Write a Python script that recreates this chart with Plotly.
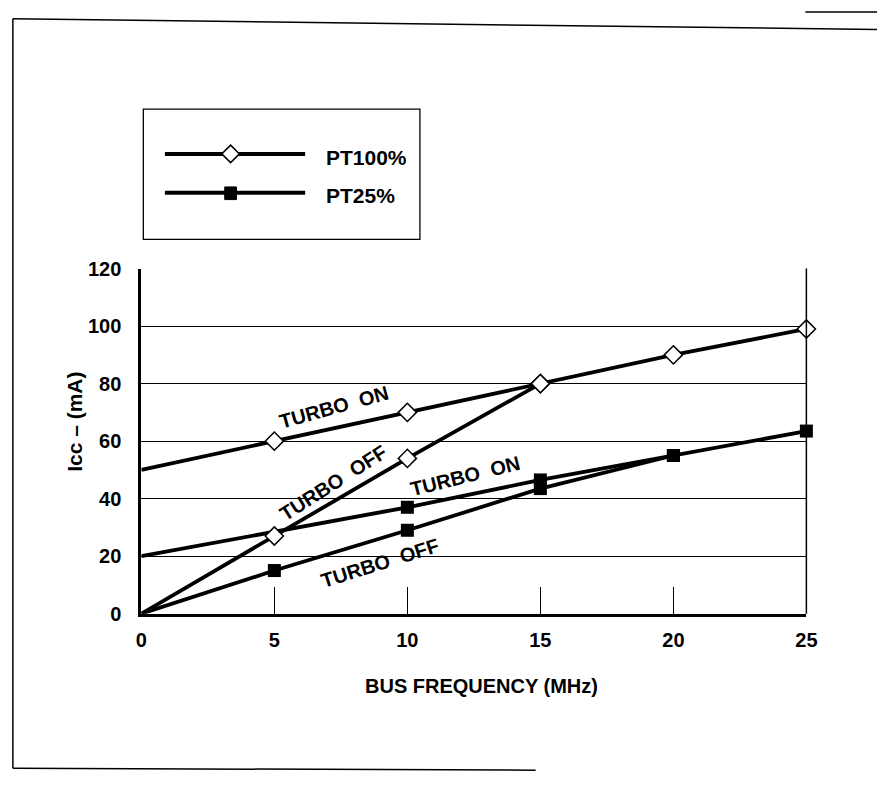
import plotly.graph_objects as go

W, H = 888, 787

# chart values
freq = [0, 5, 10, 15, 20, 25]
pt100_on = [50, 60, 70, 80, 90, 99]
pt100_off_x = [0, 5, 10, 15]
pt100_off = [0, 27, 54, 80]
pt25_on_x = [0, 10, 15, 20, 25]
pt25_on = [20, 37, 46.5, 55, 63.5]
pt25_off_x = [0, 5, 10, 15, 20]
pt25_off = [0, 15, 29, 43.5, 55]

x_ticks = [0, 5, 10, 15, 20, 25]
y_ticks = [0, 20, 40, 60, 80, 100, 120]

FONT = "Liberation Sans, Arial, Helvetica, sans-serif"

# plot area in pixels
PL, PR, PT, PB = 138, 816, 265, 620

fig = go.Figure()

line = dict(color="black", width=3.8)


def sizes(xs, s):
    # no marker at the origin (x = 0), like the original figure
    return [0 if v == 0 else s for v in xs]


def sq(xs):
    return dict(symbol="square", size=sizes(xs, 13), color="black", opacity=1,
                line=dict(width=0))


def dia(xs):
    return dict(symbol="diamond", size=sizes(xs, 14), color="white", opacity=1,
                line=dict(color="black", width=1.5))


fig.add_trace(go.Scatter(x=pt25_off_x, y=pt25_off, mode="lines+markers", line=line,
                         marker=sq(pt25_off_x), cliponaxis=False))
fig.add_trace(go.Scatter(x=pt25_on_x, y=pt25_on, mode="lines+markers", line=line,
                         marker=sq(pt25_on_x), cliponaxis=False))
fig.add_trace(go.Scatter(x=pt100_off_x, y=pt100_off, mode="lines+markers", line=line,
                         marker=dia(pt100_off_x), cliponaxis=False))
fig.add_trace(go.Scatter(x=freq, y=pt100_on, mode="lines+markers", line=line,
                         marker=dia(freq), cliponaxis=False))

# invisible full-canvas axes for frame + legend drawing (pixel units)
fig.add_trace(go.Scatter(x=[None], y=[None], xaxis="x2", yaxis="y2", showlegend=False))

bold = dict(family=FONT, size=20, color="black", weight="bold")

fig.update_layout(
    width=W, height=H, autosize=False,
    margin=dict(l=0, r=0, t=0, b=0),
    paper_bgcolor="white", plot_bgcolor="rgba(0,0,0,0)",
    showlegend=False,
    xaxis=dict(domain=[PL / W, PR / W], range=[0, 25], tickvals=x_ticks,
               showgrid=False, zeroline=False, showline=True, linecolor="black",
               linewidth=3, ticks="inside", ticklen=27, tickwidth=1.3,
               tickcolor="black", tickfont=bold, ticklabelstandoff=6,
               anchor="y"),
    yaxis=dict(domain=[(H - PB) / H, (H - PT) / H], range=[0, 120], tickvals=y_ticks,
               showgrid=True, gridcolor="black", gridwidth=1.3, zeroline=False,
               showline=True, linecolor="black", linewidth=3, ticks="",
               tickfont=bold, ticklabelstandoff=13, anchor="x"),
    xaxis2=dict(domain=[0, 1], range=[0, W], visible=False, anchor="y2"),
    yaxis2=dict(domain=[0, 1], range=[H, 0], visible=False, anchor="x2"),
)

shapes = []
# right frame of the plot
shapes.append(dict(type="line", xref="x domain", yref="y domain", x0=1, x1=1, y0=0, y1=1,
                   line=dict(color="black", width=1.5)))
# outer figure border (scanned page frame)
pix = dict(xref="x2", yref="y2", type="line", line=dict(color="black", width=1.5))
shapes.append(dict(pix, x0=7, y0=8, x1=888, y1=19))
shapes.append(dict(pix, x0=7, y0=8, x1=7, y1=779))
shapes.append(dict(pix, x0=7, y0=779, x1=540, y1=781))
shapes.append(dict(pix, x0=815, y0=1, x1=888, y1=1))
# legend box
shapes.append(dict(xref="x2", yref="y2", type="rect", x0=140, y0=101, x1=422, y1=235,
                   line=dict(color="black", width=1.3), fillcolor="white"))
# legend samples
for yy in (147, 187):
    shapes.append(dict(pix, x0=162, y0=yy, x1=305, y1=yy, line=dict(color="black", width=4)))
cx, cy, r = 229, 147, 9
shapes.append(dict(xref="x2", yref="y2", type="path",
                   path=f"M {cx - r},{cy} L {cx},{cy - r} L {cx + r},{cy} L {cx},{cy + r} Z",
                   fillcolor="white", line=dict(color="black", width=1.5)))
shapes.append(dict(xref="x2", yref="y2", type="rect", x0=223, y0=181, x1=235, y1=194,
                   fillcolor="black", line=dict(color="black", width=1)))
fig.update_layout(shapes=shapes)

ann = []
leg_font = dict(bold, size=21)
ann.append(dict(xref="x2", yref="y2", x=324, y=151, text="PT100%", showarrow=False,
                xanchor="left", font=leg_font))
ann.append(dict(xref="x2", yref="y2", x=324, y=190, text="PT25%", showarrow=False,
                xanchor="left", font=leg_font))
ann.append(dict(xref="x2", yref="y2", x=70, y=423, text="Icc – (mA)", showarrow=False,
                textangle=-90, font=dict(bold, size=21)))
ann.append(dict(xref="x2", yref="y2", x=485, y=694, text="BUS FREQUENCY (MHz)",
                showarrow=False, font=dict(bold, size=20)))

lab = dict(family=FONT, size=20, color="black", weight="bold")
ann.append(dict(x=7.26, y=71.7, text="TURBO  ON", textangle=-15.5, showarrow=False, font=lab))
ann.append(dict(x=7.2, y=45.6, text="TURBO  OFF", textangle=-32.5, showarrow=False, font=lab))
ann.append(dict(x=12.17, y=48.0, text="TURBO  ON", textangle=-14, showarrow=False, font=lab))
ann.append(dict(x=8.98, y=17.5, text="TURBO  OFF", textangle=-17.5, showarrow=False, font=lab))
fig.update_layout(annotations=ann)

fig.write_html("out.html", config={"displayModeBar": False},
               post_script="document.body.style.margin='0';")
